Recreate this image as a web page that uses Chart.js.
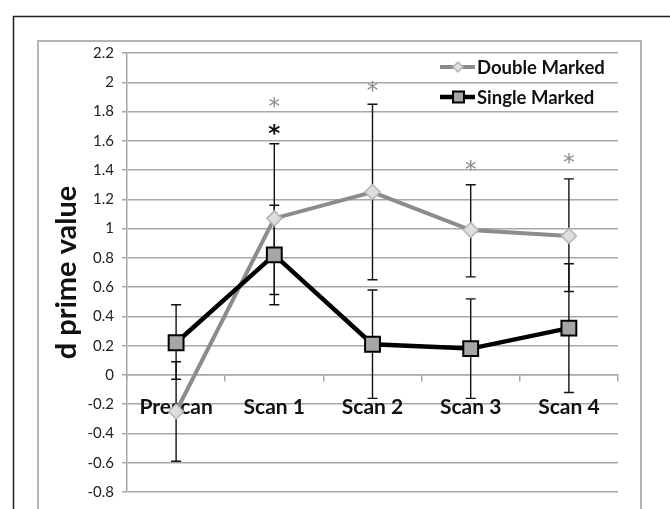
<!DOCTYPE html>
<html>
<head>
<meta charset="utf-8">
<script src="https://cdn.jsdelivr.net/npm/chart.js@4/dist/chart.umd.min.js"></script>
<style>
html, body { margin: 0; padding: 0; background: #fff; }
#wrap { width: 670px; height: 509px; }
</style>
</head>
<body>
<div id="wrap"><canvas id="chart"></canvas></div>
<script>
// data
const categories = ['Prescan', 'Scan 1', 'Scan 2', 'Scan 3', 'Scan 4'];
const doubleValues = [-0.25, 1.07, 1.25, 0.99, 0.95];
const doubleUpper = [0.09, 1.58, 1.85, 1.30, 1.34];
const doubleLower = [-0.59, 0.55, 0.65, 0.67, 0.57];
const singleValues = [0.22, 0.82, 0.21, 0.18, 0.32];
const singleUpper = [0.48, 1.16, 0.58, 0.52, 0.76];
const singleLower = [-0.03, 0.48, -0.16, -0.16, -0.12];
const doubleStars = [null, 1.86, 1.97, 1.43, 1.48];
const singleStars = [null, 1.68, null, null, null];
const yMin = -0.8, yMax = 2.2, yStep = 0.2;

const GRID = '#a8a8a8';
const FONT = 'Lato, "Open Sans", sans-serif';

// frames behind the chart
const framePlugin = {
    id: 'frames',
    beforeDraw(chart) {
        const c = chart.ctx;
        c.save();
        c.fillStyle = '#fff';
        c.fillRect(0, 0, chart.width, chart.height);
        c.strokeStyle = '#222';
        c.lineWidth = 1.5;
        c.beginPath();
        c.moveTo(13.5, chart.height + 2);
        c.lineTo(13.5, 16.5);
        c.lineTo(chart.width + 2, 16.5);
        c.stroke();
        c.strokeStyle = '#b4b4b4';
        c.lineWidth = 2;
        c.strokeRect(38, 41, 603, chart.height);
        c.restore();
    }
};

// error bars and significance stars
const errorPlugin = {
    id: 'errors',
    beforeDatasetsDraw(chart) {
        const c = chart.ctx, x = chart.scales.x, y = chart.scales.y;
        c.save();
        c.strokeStyle = '#111';
        c.lineWidth = 1.4;
        const bars = [[doubleUpper, doubleLower], [singleUpper, singleLower]];
        bars.forEach(([up, lo]) => {
            categories.forEach((cat, i) => {
                const px = x.getPixelForValue(i);
                const y1 = y.getPixelForValue(up[i]), y2 = y.getPixelForValue(lo[i]);
                c.beginPath();
                c.moveTo(px, y1); c.lineTo(px, y2);
                c.moveTo(px - 5, y1); c.lineTo(px + 5, y1);
                c.moveTo(px - 5, y2); c.lineTo(px + 5, y2);
                c.stroke();
            });
        });
        c.restore();
    },
    afterDatasetsDraw(chart) {
        const c = chart.ctx, x = chart.scales.x, y = chart.scales.y;
        c.save();
        c.textAlign = 'center';
        c.textBaseline = 'alphabetic';
        const sets = [[doubleStars, '#8a8a8a', 'normal'], [singleStars, '#111', 'bold']];
        sets.forEach(([stars, color, weight]) => {
            c.font = weight + ' 23px "DejaVu Sans", sans-serif';
            c.fillStyle = color;
            const m = c.measureText('*');
            const off = (m.actualBoundingBoxAscent - m.actualBoundingBoxDescent) / 2;
            stars.forEach((v, i) => {
                if (v === null) return;
                c.fillText('*', x.getPixelForValue(i), y.getPixelForValue(v) + off);
            });
        });
        c.restore();
    }
};

// legend drawn inside plot, top right
const legendPlugin = {
    id: 'innerLegend',
    afterDraw(chart) {
        const c = chart.ctx;
        const rows = [67, 97];
        c.save();
        chart.data.datasets.forEach((ds, i) => {
            const yy = rows[i];
            c.strokeStyle = ds.borderColor;
            c.lineWidth = ds.borderWidth;
            c.beginPath();
            c.moveTo(440, yy); c.lineTo(475, yy);
            c.stroke();
            c.fillStyle = ds.pointBackgroundColor;
            c.strokeStyle = ds.pointBorderColor;
            c.lineWidth = ds.pointBorderWidth;
            c.beginPath();
            if (ds.pointStyle === 'rectRot') {
                c.moveTo(458, yy - 5); c.lineTo(463, yy); c.lineTo(458, yy + 5); c.lineTo(453, yy);
            } else {
                c.rect(453, yy - 5.5, 11, 11);
            }
            c.closePath();
            c.fill(); c.stroke();
            c.fillStyle = '#111';
            c.font = 'bold 18.5px ' + FONT;
            c.textAlign = 'left';
            c.textBaseline = 'middle';
            c.fillText(ds.label, 477, yy + 1);
        });
        c.restore();
    }
};

new Chart(document.getElementById('chart').getContext('2d'), {
    type: 'line',
    data: {
        labels: categories,
        datasets: [{
            label: 'Double Marked',
            data: doubleValues,
            borderColor: '#8c8c8c',
            borderWidth: 4,
            pointStyle: 'rectRot',
            pointRadius: 7.5,
            pointBackgroundColor: '#dedede',
            pointBorderColor: '#b4b4b4',
            pointBorderWidth: 1.5,
            tension: 0,
            order: 1
        }, {
            label: 'Single Marked',
            data: singleValues,
            borderColor: '#000',
            borderWidth: 4.5,
            pointStyle: 'rect',
            pointRadius: 10.5,
            pointBackgroundColor: '#a6a6a6',
            pointBorderColor: '#000',
            pointBorderWidth: 2,
            tension: 0,
            order: 0
        }]
    },
    options: {
        responsive: true,
        maintainAspectRatio: false,
        animation: false,
        layout: { padding: { left: 38, top: 53, right: 52, bottom: 12 } },
        plugins: {
            legend: { display: false },
            tooltip: { enabled: false }
        },
        scales: {
            x: {
                position: { y: 0 },
                offset: true,
                grid: { drawOnChartArea: false, drawTicks: true, tickLength: 6, color: GRID, lineWidth: 1.5, offset: true },
                border: { display: true, color: GRID, width: 1.5 },
                ticks: { color: '#111', font: { family: FONT, size: 21, weight: 'bold' }, padding: 14, maxRotation: 0 }
            },
            y: {
                min: yMin,
                max: yMax,
                afterFit(scale) { scale.width = 89; },
                grid: { color: GRID, lineWidth: 1.5, tickLength: 5 },
                border: { display: true, color: GRID, width: 1.5 },
                ticks: {
                    stepSize: yStep,
                    color: '#222',
                    padding: 8,
                    font: { family: FONT, size: 15 },
                    callback: v => String(Number(v.toFixed(1)))
                },
                title: {
                    display: true,
                    text: 'd prime value',
                    color: '#111',
                    font: { family: FONT, size: 29, weight: 'bold' },
                    padding: { top: 11 }
                }
            }
        }
    },
    plugins: [framePlugin, errorPlugin, legendPlugin]
});
</script>
</body>
</html>
